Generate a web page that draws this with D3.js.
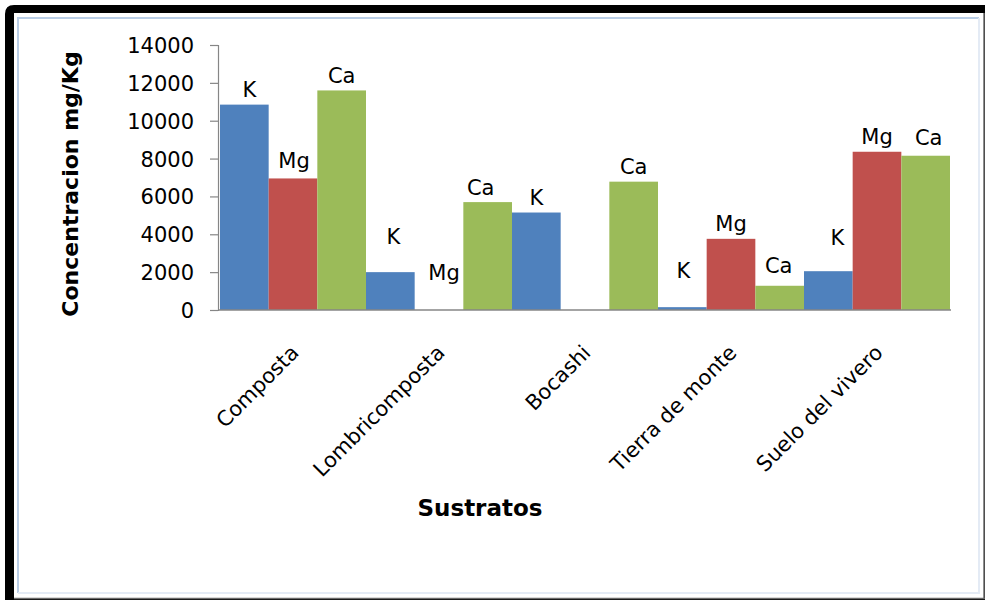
<!DOCTYPE html>
<html>
<head>
<meta charset="utf-8">
<script src="https://cdn.jsdelivr.net/npm/d3@7/dist/d3.min.js"></script>
<style>
  html, body { margin: 0; padding: 0; background: #fff; }
  svg { display: block; }
  text { font-family: "DejaVu Sans", sans-serif; fill: #000; }
</style>
</head>
<body>
<svg id="chart" width="985" height="600"></svg>
<script>
// Nutrient concentration (mg/Kg) by substrate
const categories = ["Composta", "Lombricomposta", "Bocashi", "Tierra de monte", "Suelo del vivero"];
const seriesNames = ["K", "Mg", "Ca"];
const valuesK  = [10850, 2000, 5150, 150, 2050];
const valuesMg = [6950, 0, 0, 3760, 8360];
const valuesCa = [11600, 5700, 6780, 1280, 8150];
const yTicks = [0, 2000, 4000, 6000, 8000, 10000, 12000, 14000];

const seriesValues = { K: valuesK, Mg: valuesMg, Ca: valuesCa };
const colors = { K: "#4f81bd", Mg: "#c0504d", Ca: "#9bbb59" };

// Hand-placed label offsets (pixels) for a few data labels; null hides a label
const labelNudge = {
  "Composta|K": [5, 0], "Composta|Mg": [1, -3],
  "Lombricomposta|K": [3, -21], "Lombricomposta|Mg": [5, -23], "Lombricomposta|Ca": [-7, 0],
  "Bocashi|Mg": null,
  "Tierra de monte|K": [1, -22], "Tierra de monte|Ca": [-1, -5],
  "Suelo del vivero|K": [9, -19], "Suelo del vivero|Ca": [3, -3]
};

const svg = d3.select("#chart");

// Outer frame: heavy dark edge on top/left, thin on right/bottom
svg.append("path")
  .attr("d", "M5,600 L5,14 Q5,5 14,5 L985,5 L985,600 Z")
  .attr("fill", "#000");
svg.append("rect").attr("x", 14).attr("y", 13).attr("width", 970).attr("height", 585).attr("fill", "#fff");
svg.append("line").attr("x1", 984).attr("x2", 984).attr("y1", 13).attr("y2", 599).attr("stroke", "#6a6a6a").attr("stroke-width", 1.5);
svg.append("line").attr("x1", 14).attr("x2", 985).attr("y1", 598.5).attr("y2", 598.5).attr("stroke", "#6a6a6a").attr("stroke-width", 1.5);
// Light chart-area border
svg.append("path").attr("d", "M18,593 L18,18 L979,18").attr("fill", "none").attr("stroke", "#b9cde5").attr("stroke-width", 2);
svg.append("path").attr("d", "M979,18 L979,593 L18,593").attr("fill", "none").attr("stroke", "#e4ebf5").attr("stroke-width", 2);

// Scales
const x0 = d3.scaleBand().domain(categories).range([220, 950]).padding(0);
const x1 = d3.scaleBand().domain(seriesNames).range([0, x0.bandwidth()]).padding(0);
const y = d3.scaleLinear().domain([0, 14000]).range([310, 45]);

// Bars
const bars = [];
categories.forEach((c, i) => {
  seriesNames.forEach(s => bars.push({ cat: c, series: s, value: seriesValues[s][i] }));
});

const g = svg.append("g");
g.selectAll("rect.bar").data(bars.filter(d => d.value > 0)).join("rect")
  .attr("class", "bar")
  .attr("x", d => x0(d.cat) + x1(d.series))
  .attr("width", x1.bandwidth())
  .attr("y", d => y(d.value))
  .attr("height", d => y(0) - y(d.value))
  .attr("fill", d => colors[d.series]);

// Y axis
const yAxis = svg.append("g")
  .attr("transform", "translate(218,0)")
  .call(d3.axisLeft(y).tickValues(yTicks).tickFormat(d3.format("d")).tickSize(8).tickPadding(16));
yAxis.select(".domain").attr("stroke", "#868686").attr("stroke-width", 1.2);
yAxis.selectAll(".tick line").attr("stroke", "#868686").attr("stroke-width", 1.2);
yAxis.selectAll(".tick text").style("font-size", "21px").attr("fill", "#000").attr("dy", "0.36em");

// X axis baseline
const xAxis = svg.append("g")
  .attr("transform", `translate(0,${y(0)})`)
  .call(d3.axisBottom(x0).tickSize(0).tickFormat(""));
xAxis.select(".domain").attr("stroke", "#868686").attr("stroke-width", 1.5)
  .attr("d", "M218,0H951");

// Category labels, rotated
svg.append("g").selectAll("text").data(categories).join("text")
  .attr("transform", d => `translate(${x0(d) + x0.bandwidth() / 2 + 7},${y(0) + 44}) rotate(-45)`)
  .attr("text-anchor", "end")
  .style("font-size", "21px")
  .text(d => d);

// Data labels (series names)
svg.append("g").selectAll("text").data(bars.filter(d => labelNudge[d.cat + "|" + d.series] !== null)).join("text")
  .attr("x", d => x0(d.cat) + x1(d.series) + x1.bandwidth() / 2 + ((labelNudge[d.cat + "|" + d.series] || [0, 0])[0]))
  .attr("y", d => y(d.value) - 7.5 + ((labelNudge[d.cat + "|" + d.series] || [0, 0])[1]))
  .attr("text-anchor", "middle")
  .style("font-size", "21px")
  .text(d => d.series);

// Axis titles
svg.append("text")
  .attr("transform", "translate(78,184) rotate(-90)")
  .attr("text-anchor", "middle")
  .style("font-size", "22px")
  .style("font-weight", "bold")
  .text("Concentracion mg/Kg");

svg.append("text")
  .attr("x", 480).attr("y", 516)
  .attr("text-anchor", "middle")
  .style("font-size", "23px")
  .style("font-weight", "bold")
  .text("Sustratos");
</script>
</body>
</html>
